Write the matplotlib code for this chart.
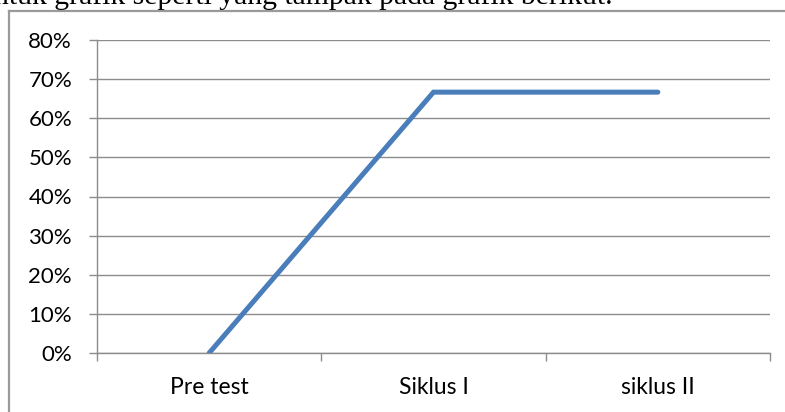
import matplotlib.pyplot as plt
from matplotlib.lines import Line2D

categories = ['Pre test', 'Siklus I', 'siklus II']
values = [0.0, 66.67, 66.67]
y_ticks = [0, 10, 20, 30, 40, 50, 60, 70, 80]

W, H = 785, 412
fig = plt.figure(figsize=(W / 100, H / 100), dpi=100)

# plot area in pixel coords
left, right, top, bottom = 97, 770, 40, 353
ax = fig.add_axes([left / W, 1 - bottom / H, (right - left) / W, (bottom - top) / H])

x = list(range(len(categories)))
ax.plot(x, values, color='#4A7EBB', lw=3.6, solid_capstyle='round', solid_joinstyle='miter')

ax.set_xlim(-0.5, len(categories) - 0.5)
ax.set_ylim(0, 80)
ax.set_yticks(y_ticks)
ax.set_yticklabels([f'{v}%' for v in y_ticks])
ax.set_xticks(x)
ax.set_xticklabels(categories)
ax.set_xticks([-0.5, 0.5, 1.5, 2.5], minor=True)

ax.grid(True, axis='y', color='#8C8C8C', lw=1.0)
ax.set_axisbelow(True)
for s in ['top', 'right']:
    ax.spines[s].set_visible(False)
for s in ['left', 'bottom']:
    ax.spines[s].set_color('#8C8C8C')
    ax.spines[s].set_linewidth(1.0)

ax.tick_params(axis='y', length=6, color='#8C8C8C', width=1.0, pad=12,
               labelsize=16, labelcolor='black')
ax.tick_params(axis='x', which='major', length=0, pad=17, labelsize=16.5)
ax.tick_params(axis='x', which='minor', length=6, color='#8C8C8C', width=1.0)
for lbl in ax.get_xticklabels() + ax.get_yticklabels():
    lbl.set_fontfamily('Lato')

# outer chart frame (top and left edges visible)
fig.add_artist(Line2D([9 / W, 1.0], [1 - 11 / H, 1 - 11 / H], color='#9A9A9A', lw=1.6))
fig.add_artist(Line2D([9 / W, 9 / W], [1 - 11 / H, 0], color='#9A9A9A', lw=1.6))

# cut-off sentence from the surrounding document
fig.text(-6 / W, 1 - 4.5 / H, 'ntuk grafik seperti yang tampak pada grafik berikut.',
         fontfamily='Liberation Serif', fontsize=21.3, va='baseline', ha='left')

fig.savefig('out.png', dpi=100)
